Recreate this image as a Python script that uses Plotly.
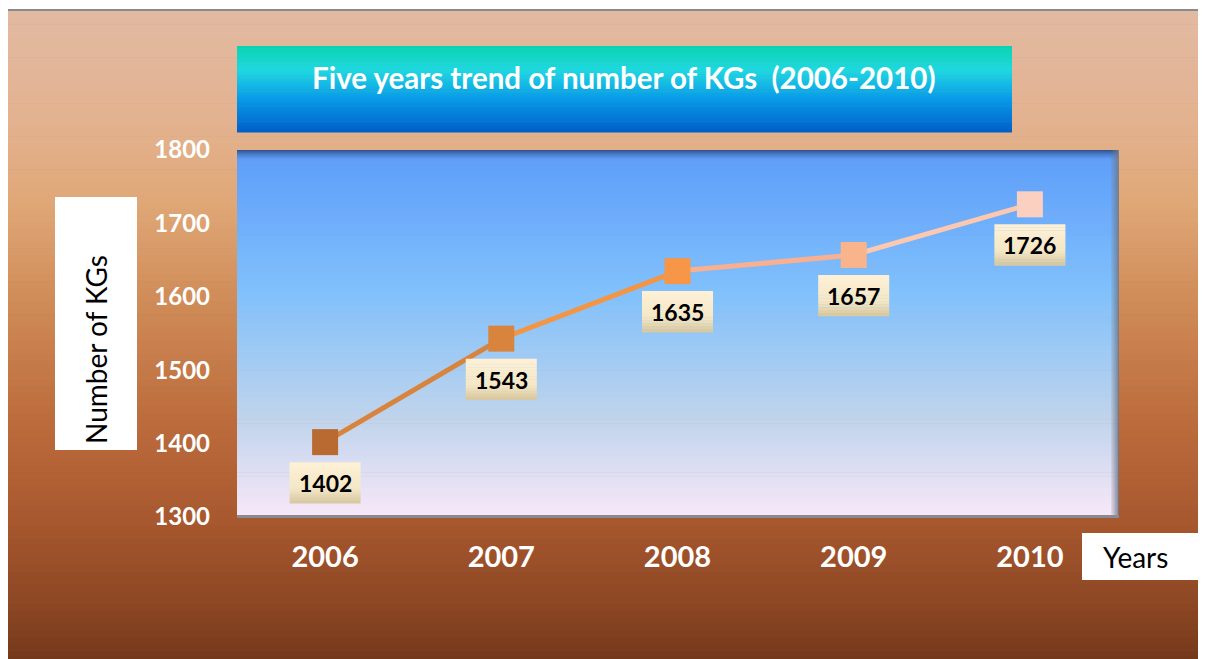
import plotly.graph_objects as go

# data
years = ["2006", "2007", "2008", "2009", "2010"]
kgs = [1402, 1543, 1635, 1657, 1726]
marker_colors = ["#b86a30", "#d8843c", "#f79646", "#fab48c", "#fcd0c0"]
segment_colors = ["#d8843c", "#f49544", "#f8b090", "#fcc8b0"]

# page has an 8px body margin, so the figure is made smaller by that much
OFF = 8
W, H = 1206 - OFF, 659 - OFF
L, R, T, B = 237, 1118, 150, 517   # plot area in page pixels
Y0, Y1 = 1300, 1800
UNITS_PER_PX = (Y1 - Y0) / (B - T)


def px_x(p):
    return (p - L) / (R - L)


def px_y(p):
    return (B - p) / (B - T)


def hex_rgb(h):
    h = h.lstrip("#")
    return [int(h[i:i + 2], 16) for i in (0, 2, 4)]


def mix(c1, c2, t, a=1.0):
    c, d = hex_rgb(c1), hex_rgb(c2)
    rgb = tuple(round(c[i] + (d[i] - c[i]) * t) for i in range(3))
    return "rgba(%d,%d,%d,%.3f)" % (rgb + (a,))


def colour_at(stops, pos):
    for j in range(len(stops) - 1):
        if stops[j][0] <= pos <= stops[j + 1][0]:
            t = (pos - stops[j][0]) / (stops[j + 1][0] - stops[j][0])
            return mix(stops[j][1], stops[j + 1][1], t)
    return stops[-1][1]


def vgradient(x0, x1, stops, n=60):
    # stops: list of (pixel y, colour), top to bottom
    out = []
    ytop, ybot = stops[0][0], stops[-1][0]
    step = (ybot - ytop) / n
    for i in range(n):
        ya = ytop + i * step
        yb = ya + step + 0.6
        out.append(dict(type="rect", xref="paper", yref="paper", layer="below",
                        x0=px_x(x0), x1=px_x(x1), y0=px_y(yb), y1=px_y(ya),
                        line=dict(width=0),
                        fillcolor=colour_at(stops, ya + step / 2)))
    return out


def rect(x0, x1, y0, y1, col):
    return dict(type="rect", xref="paper", yref="paper", layer="below",
                x0=px_x(x0), x1=px_x(x1), y0=px_y(y1), y1=px_y(y0),
                line=dict(width=0), fillcolor=col)


shapes = []
# outer frame border
shapes.append(rect(6, 1220, 9, 670, "#8a8a8a"))
# chart background
shapes += vgradient(8, 1220, [(11, "#e2baa2"), (120, "#e3b290"), (200, "#e0a878"),
                               (300, "#d08c58"), (420, "#bc6c3c"), (520, "#a8582e"),
                               (600, "#8e4824"), (670, "#70361a")], n=100)
# plot area gradient
shapes += vgradient(237, 1118, [(150, "#5c9cfa"), (290, "#80c0fc"), (420, "#c0d4ec"),
                                 (517, "#f8e8f8")], n=90)
# plot area top shadow
for k in range(10):
    shapes.append(rect(237, 1118, 150 + k, 151 + k,
                       mix("#2a4a80", "#2a4a80", 0, 0.85 * (1 - k / 10) ** 1.5)))
# plot area right shadow
for k in range(8):
    shapes.append(rect(1111 + k, 1112 + k, 150, 517,
                       mix("#707888", "#707888", 0, 0.15 + 0.1 * k)))
shapes.append(rect(237, 1119, 515, 518, "#8a8a96"))
# title box
shapes += vgradient(237, 1012, [(46, "#08d4b0"), (70, "#20d8e0"), (100, "#0898e8"),
                                 (132, "#0060c8")], n=40)
# axis title boxes
shapes.append(rect(55, 137, 197, 450, "white"))
shapes.append(rect(1082, 1220, 533, 580, "white"))

# data label boxes (beige gradient), placed under each marker
half_w = 35.5 / (R - L) * 5
label_stops = [(0, "#fdf1d6"), (0.65, "#f4e7c6"), (1, "#d6c69e")]
n_strips = 14
for i, v in enumerate(kgs):
    top = v - 20 * UNITS_PER_PX
    height = 41 * UNITS_PER_PX
    for k in range(n_strips):
        t0 = k / n_strips
        t1 = (k + 1) / n_strips
        shapes.append(dict(
            type="rect", xref="x", yref="y", layer="above",
            x0=i - half_w, x1=i + half_w,
            y0=top - t1 * height - 0.5, y1=top - t0 * height,
            line=dict(width=0),
            fillcolor=colour_at(label_stops, (t0 + t1) / 2)))

fig = go.Figure()

for i in range(len(years) - 1):
    fig.add_trace(go.Scatter(
        x=years[i:i + 2], y=kgs[i:i + 2], mode="lines",
        line=dict(color=segment_colors[i], width=5),
        hoverinfo="skip", showlegend=False
    ))

fig.add_trace(go.Scatter(
    x=years, y=kgs, mode="markers",
    marker=dict(symbol="square", size=26, color=marker_colors,
                line=dict(width=0)),
    showlegend=False
))

annotations = []
for i, v in enumerate(kgs):
    annotations.append(dict(
        x=i, y=v, xref="x", yref="y", text="<b>%d</b>" % v, showarrow=False,
        xanchor="center", yanchor="middle", yshift=-41,
        font=dict(family="Lato", size=23, color="black")
    ))

annotations.append(dict(
    x=px_x(624), y=px_y(77), xref="paper", yref="paper", showarrow=False,
    xanchor="center", yanchor="middle",
    text="<b>Five years trend of number of KGs  (2006-2010)</b>",
    font=dict(family="Lato", size=29.5, color="white")
))
annotations.append(dict(
    x=px_x(96), y=px_y(350), xref="paper", yref="paper", showarrow=False,
    xanchor="center", yanchor="middle",
    text="Number of KGs", textangle=-90,
    font=dict(family="Lato", size=28, color="black")
))
annotations.append(dict(
    x=px_x(1135), y=px_y(557), xref="paper", yref="paper", showarrow=False,
    xanchor="center", yanchor="middle",
    text="Years", font=dict(family="Lato", size=28, color="black")
))

fig.update_layout(
    width=W, height=H,
    margin=dict(l=L - OFF, r=W - (R - OFF), t=T - OFF, b=H - (B - OFF)),
    paper_bgcolor="white", plot_bgcolor="rgba(0,0,0,0)",
    shapes=shapes, annotations=annotations,
    xaxis=dict(type="category", range=[-0.5, 4.5], showgrid=False, zeroline=False,
               showline=False, ticks="", ticklabelstandoff=20,
               tickfont=dict(family="Lato", size=29, color="white", weight="bold")),
    yaxis=dict(range=[Y0, Y1], dtick=100, showgrid=False, zeroline=False,
               showline=False, ticks="", ticklabelstandoff=26,
               tickfont=dict(family="Lato", size=24, color="white", weight="bold")),
)

fig.write_html("out.html")
